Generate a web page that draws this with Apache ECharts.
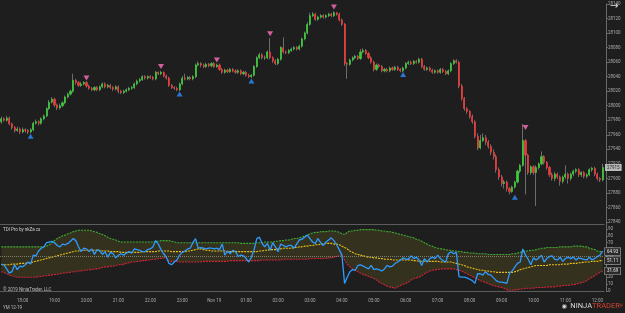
<!DOCTYPE html>
<html>
<head>
<meta charset="utf-8">
<title>YM 12-19</title>
<script src="https://cdn.jsdelivr.net/npm/echarts@6/dist/echarts.min.js"></script>
<style>
    html, body { margin: 0; padding: 0; background: #1e1e1e; }
    #main { width: 625px; height: 313px; }
</style>
</head>
<body>
<div id="main"></div>
<script>
// YM 12-19, 5 minute bars from 17:20 to 12:10
var opens = [27978,27982,27980,27983,27975,27970,27966,27968,27964,27967,
    27966,27964,27967,27976,27978,27976,27982,27986,27996,28005,
    28009,28001,27997,28000,28004,28012,28016,28020,28035,28032,
    28028,28030,28032,28027,28024,28022,28025,28022,28026,28030,
    28026,28028,28025,28023,28026,28020,28018,28020,28022,28024,
    28025,28030,28034,28036,28040,28038,28040,28039,28037,28046,
    28044,28046,28041,28038,28028,28025,28024,28022,28030,28038,
    28037,28039,28037,28040,28056,28058,28056,28054,28057,28055,
    28058,28054,28056,28050,28046,28049,28047,28050,28048,28046,
    28048,28044,28046,28042,28040,28042,28054,28066,28070,28066,
    28066,28074,28066,28062,28058,28064,28080,28074,28073,28076,
    28078,28080,28078,28082,28092,28100,28112,28124,28126,28119,
    28122,28124,28122,28124,28126,28124,28128,28126,28118,28112,
    28058,28057,28063,28066,28068,28065,28074,28076,28072,28066,
    28060,28050,28056,28054,28048,28050,28048,28052,28050,28053,
    28050,28048,28052,28058,28060,28058,28061,28060,28064,28054,
    28050,28052,28049,28046,28048,28046,28050,28047,28044,28048,
    28058,28062,28060,28027,28010,27996,27992,27985,27978,27958,
    27942,27952,27956,27950,27944,27936,27930,27912,27902,27893,
    27895,27886,27882,27888,27895,27910,27918,27952,27932,27908,
    27916,27908,27915,27920,27930,27922,27915,27905,27900,27906,
    27902,27896,27902,27906,27900,27906,27910,27912,27905,27908,
    27903,27905,27912,27914,27906,27900,27898];
var closes = [27982,27980,27983,27975,27970,27966,27968,27964,27967,27966,
    27964,27967,27976,27978,27976,27982,27986,27996,28005,28009,
    28001,27997,28000,28004,28012,28016,28020,28035,28032,28028,
    28030,28032,28027,28024,28022,28025,28022,28026,28030,28026,
    28028,28025,28023,28026,28020,28018,28020,28022,28024,28025,
    28030,28034,28036,28040,28038,28040,28039,28037,28046,28044,
    28046,28041,28038,28028,28025,28024,28022,28030,28038,28037,
    28039,28037,28040,28056,28058,28056,28054,28057,28055,28058,
    28054,28056,28050,28046,28049,28047,28050,28048,28046,28048,
    28044,28046,28042,28040,28042,28054,28066,28070,28066,28066,
    28074,28066,28062,28058,28064,28080,28074,28073,28076,28078,
    28080,28078,28082,28092,28100,28112,28124,28126,28119,28122,
    28124,28122,28124,28126,28124,28128,28126,28118,28112,28058,
    28057,28063,28066,28068,28065,28074,28076,28072,28066,28060,
    28050,28056,28054,28048,28050,28048,28052,28050,28053,28050,
    28048,28052,28058,28060,28058,28061,28060,28064,28054,28050,
    28052,28049,28046,28048,28046,28050,28047,28044,28048,28058,
    28062,28060,28027,28010,27996,27992,27985,27978,27958,27942,
    27952,27956,27950,27944,27936,27930,27912,27902,27893,27895,
    27886,27882,27888,27895,27910,27918,27952,27932,27908,27916,
    27908,27915,27920,27930,27922,27915,27905,27900,27906,27902,
    27896,27902,27906,27900,27906,27910,27912,27905,27908,27903,
    27905,27912,27914,27906,27900,27898,27915];
var lows = [27975,27978,27978,27973,27967,27963,27964,27961,27962,27963,
    27961,27962,27965,27974,27973,27974,27980,27984,27994,28003,
    27998,27994,27995,27998,28002,28010,28014,28018,28029,28026,
    28026,28028,28025,28022,28020,28020,28020,28020,28024,28024,
    28024,28023,28020,28021,28017,28016,28016,28018,28020,28022,
    28023,28028,28032,28034,28036,28036,28037,28035,28035,28042,
    28042,28039,28036,28026,28023,28022,28020,28020,28028,28035,
    28035,28035,28035,28038,28054,28053,28052,28052,28053,28053,
    28052,28052,28048,28044,28044,28045,28045,28046,28044,28044,
    28042,28042,28040,28038,28038,28040,28052,28064,28064,28063,
    28064,28064,28059,28056,28056,28062,28072,28071,28071,28074,
    28076,28076,28076,28080,28090,28098,28110,28122,28117,28117,
    28120,28120,28120,28122,28122,28122,28124,28116,28110,28055,
    28037,28055,28061,28064,28063,28063,28072,28070,28064,28058,
    28047,28048,28052,28046,28046,28046,28046,28048,28048,28048,
    28046,28046,28050,28056,28056,28056,28058,28058,28052,28048,
    28048,28047,28044,28044,28044,28044,28045,28042,28042,28046,
    28056,28058,28024,28007,27993,27989,27982,27975,27955,27939,
    27940,27950,27946,27941,27932,27926,27908,27898,27889,27886,
    27882,27878,27880,27886,27893,27907,27916,27878,27905,27905,
    27905,27862,27912,27918,27919,27912,27902,27897,27896,27899,
    27890,27893,27899,27893,27897,27903,27907,27902,27902,27900,
    27900,27903,27909,27903,27897,27895,27896];
var highs = [27985,27984,27986,27985,27977,27972,27971,27970,27970,27969,
    27968,27969,27978,27981,27980,27984,27988,27998,28008,28012,
    28011,28003,28003,28006,28014,28018,28022,28044,28037,28034,
    28033,28034,28034,28029,28026,28027,28027,28028,28032,28032,
    28030,28030,28027,28028,28028,28022,28022,28024,28026,28027,
    28032,28036,28038,28042,28042,28042,28042,28041,28048,28047,
    28048,28047,28043,28040,28030,28027,28026,28032,28041,28044,
    28041,28041,28042,28058,28061,28060,28058,28059,28059,28060,
    28060,28058,28058,28052,28051,28051,28052,28052,28050,28050,
    28050,28048,28048,28044,28044,28056,28068,28073,28072,28069,
    28076,28093,28068,28064,28066,28082,28094,28076,28078,28080,
    28082,28082,28084,28094,28102,28115,28128,28129,28128,28124,
    28126,28126,28126,28128,28128,28130,28129,28128,28120,28114,
    28060,28065,28068,28070,28070,28078,28079,28078,28074,28068,
    28062,28058,28058,28056,28052,28052,28054,28054,28055,28055,
    28052,28054,28060,28062,28062,28063,28063,28066,28066,28056,
    28054,28054,28051,28050,28050,28052,28052,28049,28050,28060,
    28064,28064,28062,28030,28012,27998,27994,27988,27980,27962,
    27960,27962,27960,27953,27947,27940,27933,27915,27905,27898,
    27897,27888,27890,27897,27912,27920,27975,27954,27934,27918,
    27918,27918,27922,27937,27932,27924,27917,27908,27909,27908,
    27904,27904,27918,27908,27908,27912,27914,27914,27910,27910,
    27907,27914,27916,27916,27908,27902,27920];

// TDI Pro panel
var tdiUpper = [64,64,64,64,64,64,64,64,64,64,64,64,64,64,64,64,64,
    65,67,70,73,76,78,80,81,83,84,86,87,88,88,88,88,88,87,86,85,83,82,80,78,76,75,74,72,71,
    71,71,71,71,71,71,71,71,71,71,71,71,
    72,72,73,73,73,73,72,71,70,
    70,70,70,70,70,70,70,70,70,70,70,70,70,70,70,70,70,70,70,70,70,70,70,69,69,69,69,
    69,69,
    70,70,70,71,71,71,71,72,72,73,73,74,74,75,76,76,77,78,80,81,83,84,85,85,86,86,86,87,87,87,86,85,83,82,
    85,87,87,88,88,89,89,89,89,89,89,88,88,87,87,86,86,85,84,83,82,81,80,79,78,77,75,74,72,70,68,66,65,63,62,61,61,60,59,59,58,58,
    57,57,56,56,55,55,55,54,54,54,54,53,53,53,53,53,53,53,53,53,54,54,55,56,57,58,58,59,59,60,61,62,62,63,63,63,63,63,64,64,64,64,64,65,65,65,65,64,64,62,61,60,58,57,57];
var tdiLower = [28,27,25,23,22,21,20,20,
    20,20,20,20,20,20,
    21,21,22,22,23,23,24,24,25,26,26,27,27,28,28,29,29,30,30,31,31,32,32,33,34,35,35,36,36,37,38,38,39,40,41,42,42,43,43,44,44,45,45,46,46,47,47,48,48,
    43,43,43,43,42,42,42,42,42,42,42,42,42,
    43,43,43,43,43,43,43,43,43,43,
    44,44,44,44,44,44,44,44,44,44,44,44,
    45,45,45,45,45,45,45,45,
    46,46,46,46,46,46,46,46,46,46,
    47,47,47,47,47,47,47,
    48,48,49,50,51,52,45,
    39,35,32,30,28,26,24,23,21,20,18,16,13,11,9,7,6,5,4,6,8,10,11,13,16,18,19,20,22,25,27,29,30,31,31,32,32,32,32,32,32,31,
    30,29,27,25,23,21,19,17,15,14,12,11,9,8,7,6,5,4,2,1,1,2,2,3,3,4,4,4,4,5,5,5,5,6,6,6,6,7,7,8,8,8,9,9,10,11,12,13,15,18,20,22,25,27,29];
var tdiSignal = [38,38,38,38,39,39,39,40,40,40,
    41,41,42,43,44,45,46,47,48,49,
    50,51,52,53,54,55,56,57,58,58,
    59,59,59,59,59,59,59,59,58,58,
    58,57,57,57,57,56,56,56,56,56,
    56,56,56,57,57,57,57,57,57,58,
    58,58,58,58,57,57,57,57,57,57,
    58,58,59,60,61,61,60,59,59,58,
    58,58,58,58,58,57,57,57,57,57,
    57,57,57,57,57,57,57,58,58,59,
    59,60,60,60,61,61,62,62,62,62,
    63,63,64,64,65,65,66,66,67,67,
    68,68,69,69,69,68,68,67,65,63,
    61,58,56,54,53,52,51,50,49,49,
    48,48,47,47,46,46,46,45,45,45,
    45,45,45,45,45,44,44,43,43,43,
    43,43,43,43,43,42,42,42,42,42,
    41,40,39,38,37,35,34,33,32,31,
    30,30,29,29,28,28,27,27,27,27,
    27,27,27,28,29,31,32,33,34,35,
    36,37,37,37,37,37,38,38,38,38,
    38,39,39,39,40,40,40,41,41,42,
    42,42,43,43,43,44,44];
var tdiPrice = [39,38,32,26,28,38,31,36,35,38,
    42,39,52,51,58,62,64,70,71,72,
    70,66,64,68,67,69,72,76,73,64,
    57,62,61,57,61,53,60,58,53,57,
    49,56,54,48,52,54,52,55,57,55,
    61,60,59,57,57,60,61,64,73,68,
    60,54,49,40,38,42,45,52,56,58,
    61,62,70,76,62,63,62,61,62,62,
    61,62,60,68,52,58,54,59,57,50,
    52,51,47,42,49,60,76,78,69,64,
    69,59,70,64,57,68,66,64,66,66,
    62,68,74,75,78,81,76,71,69,76,
    70,66,71,74,77,73,67,60,52,11,
    20,28,31,30,37,38,36,34,32,37,
    31,32,31,29,32,37,35,36,40,42,
    45,48,46,46,51,47,49,45,37,47,
    42,47,49,47,52,47,44,42,54,57,
    54,56,21,20,20,19,17,15,11,25,
    25,23,28,24,23,19,15,13,13,12,
    11,26,29,35,40,42,61,52,46,38,
    48,45,48,52,42,47,50,51,46,45,
    49,43,47,49,47,49,45,48,47,46,
    45,49,45,47,50,52,58];
var tdiValueTags = ['64.93', '51.11', '31.69'];

// signal arrows (bar index / price level)
var sellBars = [32, 60, 81, 101, 125, 197];
var sellLevels = [28038, 28054, 28063, 28099, 28136, 27970];
var buyBars = [11, 67, 94, 151, 193];
var buyLevels = [27958, 28016, 28034, 28043, 27874];

function pad(n) { return (n < 10 ? '0' : '') + n; }

var times = [];
for (var i = 0; i < closes.length; i++) {
    var m = (17 * 60 + 20 + i * 5) % 1440;
    times.push(pad(Math.floor(m / 60)) + ':' + pad(m % 60));
}

var wickData = [], bodyData = [], bandBase = [], bandSpan = [];
for (var k = 0; k < closes.length; k++) {
    wickData.push([opens[k], closes[k], lows[k], highs[k]]);
    bodyData.push([opens[k], closes[k], Math.min(opens[k], closes[k]), Math.max(opens[k], closes[k])]);
    bandBase.push(tdiLower[k]);
    bandSpan.push(tdiUpper[k] - tdiLower[k]);
}
var last = closes.length - 1;

var font = 'Roboto, "DejaVu Sans", sans-serif';
var txt = '#a9a9a9', axisCol = '#6a6a6a';
var up = '#3cc83c', down = '#e23c3c';

var onHour = function (idx, val) { return val.slice(3) === '00'; };

function tag(text, value) {
    return {
        silent: true, symbol: 'none',
        lineStyle: { color: 'transparent', width: 0 },
        data: [{ yAxis: value }],
        label: {
            show: true, position: 'end', distance: 1, formatter: text,
            fontSize: 4.5, fontFamily: font, color: '#e8e8e8',
            backgroundColor: '#2a2a2a', borderColor: '#a8a8a8', borderWidth: 0.6,
            padding: [1, 2]
        }
    };
}

var chart = echarts.init(document.getElementById('main'));
chart.setOption({
    backgroundColor: '#1e1e1e',
    animation: false,
    textStyle: { fontFamily: font },
    grid: [
        { left: 0, right: 21, top: 4, height: 218, outerBoundsMode: 'none' },
        { left: 0, right: 21, top: 222, height: 69, outerBoundsMode: 'none' }
    ],
    xAxis: [
        {
            type: 'category', gridIndex: 0, data: times, offset: 2,
            axisLine: { lineStyle: { color: '#5c5c5c' } },
            axisTick: { show: false }, axisLabel: { show: false }, splitLine: { show: false }
        },
        {
            type: 'category', gridIndex: 1, data: times, offset: 4,
            axisLine: { lineStyle: { color: '#5c5c5c' } },
            axisTick: { interval: onHour, alignWithLabel: true, length: 2, lineStyle: { color: '#777' } },
            axisLabel: {
                interval: onHour, fontSize: 4.5, color: txt, margin: 3,
                formatter: function (v) { return v === '00:00' ? 'Nov 19' : v; }
            },
            splitLine: { show: false }
        }
    ],
    yAxis: [
        {
            type: 'value', gridIndex: 0, position: 'right', offset: 2,
            min: 27840, max: 28140, interval: 20,
            axisLine: { show: true, lineStyle: { color: axisCol } },
            axisTick: { show: true, length: 2, lineStyle: { color: axisCol } },
            axisLabel: {
                fontSize: 4.5, color: txt, margin: 2,
                formatter: function (v) { return String(v); }
            },
            splitLine: { show: false }
        },
        {
            type: 'value', gridIndex: 1, position: 'right', offset: 2,
            min: 0, max: 100, interval: 10,
            axisLine: { show: true, lineStyle: { color: axisCol } },
            axisTick: { show: true, length: 2, lineStyle: { color: axisCol } },
            axisLabel: {
                fontSize: 4.5, color: txt, margin: 2,
                formatter: function (v) { return v === 100 ? '' : String(v); }
            },
            splitLine: { show: false }
        }
    ],
    series: [
        {
            type: 'candlestick', xAxisIndex: 0, yAxisIndex: 0, barWidth: 1,
            data: wickData,
            itemStyle: { color: '#6c6c6c', color0: '#6c6c6c', borderColor: '#6c6c6c', borderColor0: '#6c6c6c', borderWidth: 1 }
        },
        {
            type: 'candlestick', xAxisIndex: 0, yAxisIndex: 0, barWidth: 1.6,
            data: bodyData,
            itemStyle: { color: up, color0: down, borderColor: up, borderColor0: down, borderWidth: 0.8 },
            markLine: {
                silent: true, symbol: 'none',
                lineStyle: { color: 'transparent', width: 0 },
                data: [{ yAxis: closes[last] }],
                label: {
                    show: true, position: 'end', distance: 1, formatter: String(closes[last]),
                    fontSize: 4.5, fontFamily: font, color: '#1e1e1e',
                    backgroundColor: '#b8b8b8', padding: [1, 2]
                }
            }
        },
        {
            type: 'scatter', xAxisIndex: 0, yAxisIndex: 0,
            symbol: 'triangle', symbolRotate: 180, symbolSize: [6, 5],
            itemStyle: { color: '#ff6fbf' },
            data: sellBars.map(function (b, j) { return [b, sellLevels[j]]; })
        },
        {
            type: 'scatter', xAxisIndex: 0, yAxisIndex: 0,
            symbol: 'triangle', symbolSize: [6, 5],
            itemStyle: { color: '#2a8cff' },
            data: buyBars.map(function (b, j) { return [b, buyLevels[j]]; })
        },
        {
            type: 'line', xAxisIndex: 1, yAxisIndex: 1, stack: 'band', data: bandBase,
            symbol: 'none', lineStyle: { opacity: 0 }, silent: true
        },
        {
            type: 'line', xAxisIndex: 1, yAxisIndex: 1, stack: 'band', data: bandSpan,
            symbol: 'none', lineStyle: { opacity: 0 }, silent: true,
            areaStyle: { color: 'rgba(112,102,30,0.38)' }
        },
        {
            type: 'line', xAxisIndex: 1, yAxisIndex: 1, data: tdiUpper,
            symbol: 'none', lineStyle: { color: '#3fae35', width: 1.1, type: [2, 1] },
            markLine: tag(tdiValueTags[0], tdiUpper[last])
        },
        {
            type: 'line', xAxisIndex: 1, yAxisIndex: 1, data: tdiLower,
            symbol: 'none', lineStyle: { color: '#d3243a', width: 1.1, type: [2, 1] },
            markLine: tag(tdiValueTags[2], tdiLower[last])
        },
        {
            type: 'line', xAxisIndex: 1, yAxisIndex: 1, data: tdiSignal,
            symbol: 'none', lineStyle: { color: '#e8c21a', width: 1.1, type: [2, 1] },
            markLine: tag(tdiValueTags[1], tdiSignal[last])
        },
        {
            type: 'line', xAxisIndex: 1, yAxisIndex: 1, data: tdiPrice,
            symbol: 'none', lineStyle: { color: '#2f9bff', width: 1.3 },
            markLine: {
                silent: true, symbol: 'none', label: { show: false },
                lineStyle: { color: '#8f8f84', width: 0.8, type: [1, 1] },
                data: [{ yAxis: 50 }]
            },
            z: 5
        }
    ],
    graphic: [
        { type: 'text', left: 610, top: 1, style: { text: '→', fill: '#e4e4e4', font: '10px "DejaVu Sans"' } },
        { type: 'text', left: 3, top: 227, style: { text: 'TDI Pro by nkZa cs', fill: '#cfcfcf', font: '4.5px Roboto' } },
        { type: 'text', left: 3, top: 287, style: { text: '© 2019 NinjaTrader, LLC', fill: '#bdbdbd', font: '4.5px Roboto' } },
        { type: 'text', left: 3, top: 305, style: { text: 'YM 12-19', fill: '#bdbdbd', font: '4.5px Roboto' } },
        {
            type: 'text', right: 2, bottom: 1,
            style: {
                text: '{i|◉} {a|NINJA}{b|TRADER}{r|®}',
                rich: {
                    i: { fontSize: 6, fill: '#e0e0e0', fontFamily: 'DejaVu Sans' },
                    a: { fontSize: 7.5, fill: '#d8d8d8', fontFamily: 'Roboto' },
                    b: { fontSize: 7.5, fill: '#d8432e', fontFamily: 'Roboto' },
                    r: { fontSize: 4, fill: '#d8432e', fontFamily: 'Roboto' }
                }
            }
        }
    ]
});
</script>
</body>
</html>
